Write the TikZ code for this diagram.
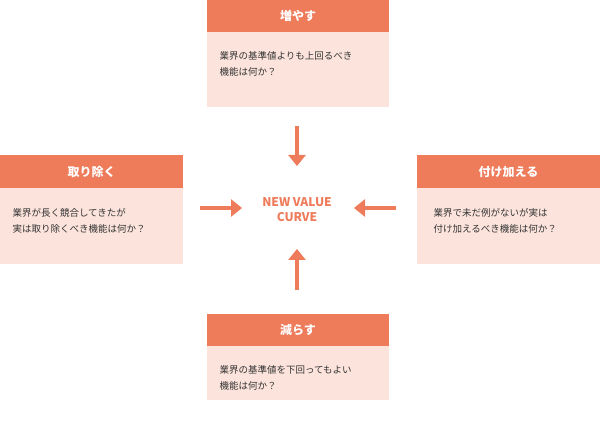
\documentclass[tikz,border=0pt]{standalone}
\usepackage{fontspec}
\setmainfont{Noto Sans CJK JP}
\usetikzlibrary{arrows.meta}
\definecolor{hd}{HTML}{EE7B5A}
\definecolor{bd}{HTML}{FCE4DC}
\definecolor{tx}{HTML}{333333}
\begin{document}
\begin{tikzpicture}[x=1pt,y=-1pt,
  head/.style={fill=hd,text=white,font=\bfseries\fontsize{12}{14}\selectfont},
  body/.style={fill=bd},
  btext/.style={text=tx,font=\fontsize{9.5}{16}\selectfont,align=left,anchor=north west},
  arr/.style={draw=hd,line width=4,-{Triangle[length=11,width=17]}}]
\useasboundingbox (0,0) rectangle (600,422);
% top
\fill[body] (207,32) rectangle (389,107);
\fill[hd] (207,0) rectangle (389,32);
\node[head] (th) at (298,16) {増やす};
\node[btext] (tb) at (216,48) {業界の基準値よりも上回るべき\\機能は何か？};
% left
\fill[body] (0,188) rectangle (183,264);
\fill[hd] (0,155) rectangle (183,188);
\node[head] (lh) at (91.5,171.5) {取り除く};
\node[btext] (lb) at (9,205) {業界が長く競合してきたが\\実は取り除くべき機能は何か？};
% right
\fill[body] (417,188) rectangle (600,264);
\fill[hd] (417,155) rectangle (600,188);
\node[head] (rh) at (508.5,171.5) {付け加える};
\node[btext] (rb) at (430,205) {業界で未だ例がないが実は\\付け加えるべき機能は何か？};
% bottom
\fill[body] (207,346) rectangle (389,400);
\fill[hd] (207,314) rectangle (389,346);
\node[head] (bh) at (298,330) {減らす};
\node[btext] (bb) at (216,362) {業界の基準値を下回ってもよい\\機能は何か？};
% center
\node[text=hd,font=\bfseries\fontsize{12}{15}\selectfont,align=center] (c) at (297,210) {NEW VALUE\\CURVE};
\coordinate (a1) at (297,126); \coordinate (a1e) at (297,166);
\coordinate (a2) at (297,290); \coordinate (a2e) at (297,249);
\coordinate (a3) at (200,208); \coordinate (a3e) at (242,208);
\coordinate (a4) at (396,208); \coordinate (a4e) at (354,208);
\draw[arr] (a1) -- (a1e);
\draw[arr] (a2) -- (a2e);
\draw[arr] (a3) -- (a3e);
\draw[arr] (a4) -- (a4e);
\end{tikzpicture}
\end{document}
